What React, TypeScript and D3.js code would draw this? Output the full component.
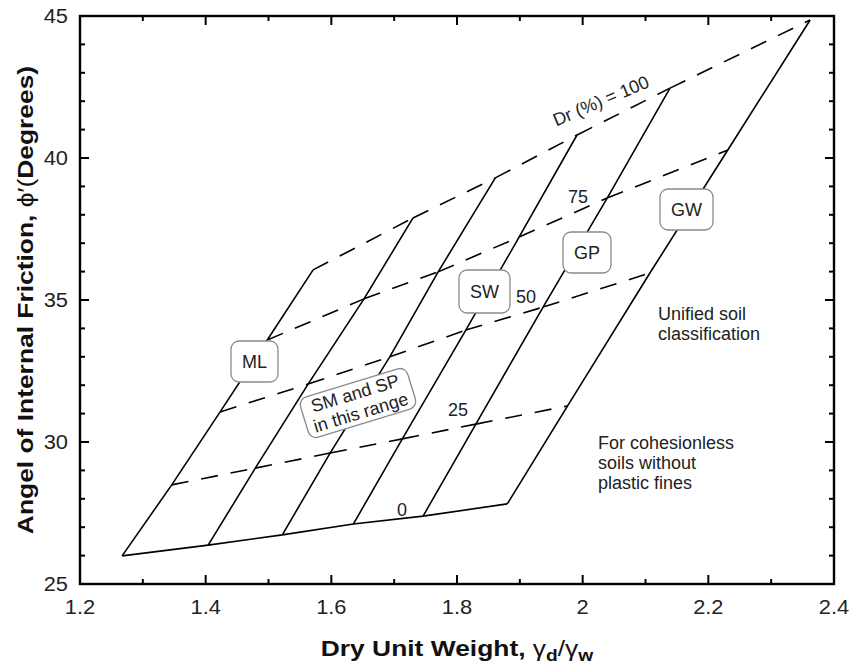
import React from "react";
import * as d3 from "d3";

// Dry unit weight (gamma_d / gamma_w) and friction angle at each relative density, one value per soil line
const gammaDr0 = [1.267, 1.404, 1.522, 1.635, 1.746, 1.88];
const phiDr0 = [25.99, 26.37, 26.73, 27.11, 27.39, 27.82];
const gammaDr25 = [1.346, 1.479, 1.598, 1.713, 1.83, 1.976];
const phiDr25 = [28.49, 29.08, 29.61, 30.11, 30.63, 31.27];
const gammaDr50 = [1.423, 1.563, 1.693, 1.814, 1.937, 2.107];
const phiDr50 = [31.06, 32.04, 33.0, 33.94, 34.75, 35.95];
const gammaDr75 = [1.498, 1.652, 1.77, 1.899, 2.039, 2.231];
const phiDr75 = [33.59, 35.04, 35.99, 37.22, 38.59, 40.28];
const gammaDr100 = [1.571, 1.73, 1.861, 1.991, 2.139, 2.362];
const phiDr100 = [36.06, 37.89, 39.3, 40.81, 42.46, 44.86];

const drLevels = [0, 25, 50, 75, 100];

const xMajorTicks = [1.2, 1.4, 1.6, 1.8, 2.0, 2.2, 2.4];
const xTickLabels = ["1.2", "1.4", "1.6", "1.8", "2", "2.2", "2.4"];
const xMinorTicks = [1.3, 1.5, 1.7, 1.9, 2.1, 2.3];
const yMajorTicks = [25, 30, 35, 40, 45];
const yTickLabels = ["25", "30", "35", "40", "45"];
const yMinorTicks = [26, 27, 28, 29, 31, 32, 33, 34, 36, 37, 38, 39, 41, 42, 43, 44];

const FONT = "'Liberation Sans', Arial, Helvetica, sans-serif";

export default function App() {
  const W = 855;
  const H = 667;
  const x = d3.scaleLinear().domain([1.2, 2.4]).range([80, 834]);
  const y = d3.scaleLinear().domain([25, 45]).range([584, 16]);

  const gammaRows = [gammaDr0, gammaDr25, gammaDr50, gammaDr75, gammaDr100];
  const phiRows = [phiDr0, phiDr25, phiDr50, phiDr75, phiDr100];

  const line = d3
    .line<[number, number]>()
    .x((d) => x(d[0]))
    .y((d) => y(d[1]));

  // solid soil lines: same index across Dr rows
  const solidLines = gammaDr0.map((_, i) =>
    gammaRows.map((g, r) => [g[i], phiRows[r][i]] as [number, number])
  );

  // dashed Dr lines, drawn segment by segment (Dr = 0 is solid)
  const dashedSegs: [number, number][][] = [];
  drLevels.forEach((lvl, r) => {
    if (lvl === 0) return;
    for (let i = 0; i < gammaRows[r].length - 1; i++) {
      dashedSegs.push([
        [gammaRows[r][i], phiRows[r][i]],
        [gammaRows[r][i + 1], phiRows[r][i + 1]],
      ]);
    }
  });
  const bottomLine = gammaDr0.map((g, i) => [g, phiDr0[i]] as [number, number]);

  const boxes = [
    { label: "ML", cx: 254.5, cy: 361.5, w: 47, h: 41 },
    { label: "SW", cx: 484.5, cy: 291.5, w: 51, h: 43 },
    { label: "GP", cx: 587, cy: 252.5, w: 48, h: 41 },
    { label: "GW", cx: 686.5, cy: 209.5, w: 53, h: 41 },
  ];

  const x0 = x(1.2), x1 = x(2.4), y0 = y(25), y1 = y(45);

  return (
    <svg
      width={W}
      height={H}
      style={{ position: "absolute", left: 0, top: 0, display: "block", background: "#fff" }}
      fontFamily={FONT}
    >
      <rect x={0} y={0} width={W} height={H} fill="#fff" />

      {/* solid soil lines */}
      {solidLines.map((pts, i) => (
        <path key={"s" + i} d={line(pts) || ""} fill="none" stroke="#000" strokeWidth={1.6} strokeLinejoin="round" />
      ))}
      <path d={line(bottomLine) || ""} fill="none" stroke="#000" strokeWidth={1.6} />

      {/* dashed relative density lines */}
      {dashedSegs.map((seg, i) => (
        <path
          key={"d" + i}
          d={line(seg) || ""}
          fill="none"
          stroke="#000"
          strokeWidth={1.6}
          strokeDasharray="17 13"
        />
      ))}

      {/* soil group boxes */}
      {boxes.map((b) => (
        <g key={b.label}>
          <rect
            x={b.cx - b.w / 2}
            y={b.cy - b.h / 2}
            width={b.w}
            height={b.h}
            rx={8}
            fill="#fff"
            stroke="#8a8a8a"
            strokeWidth={1.3}
          />
          <text x={b.cx} y={b.cy} textAnchor="middle" dominantBaseline="central" fontSize={18} fill="#222">
            {b.label}
          </text>
        </g>
      ))}

      <g transform="translate(358,403) rotate(-17)">
        <rect x={-56} y={-21} width={112} height={42} rx={8} fill="#fff" stroke="#8a8a8a" strokeWidth={1.3} />
        <text x={0} y={-10} textAnchor="middle" dominantBaseline="central" fontSize={18} fill="#222">
          SM and SP
        </text>
        <text x={0} y={10} textAnchor="middle" dominantBaseline="central" fontSize={18} fill="#222">
          in this range
        </text>
      </g>

      {/* Dr labels */}
      <text transform="translate(601,101) rotate(-23)" textAnchor="middle" dominantBaseline="central" fontSize={18} fill="#222">
        Dr (%) = 100
      </text>
      <text x={578} y={197} textAnchor="middle" dominantBaseline="central" fontSize={18} fill="#222">75</text>
      <text x={526} y={297} textAnchor="middle" dominantBaseline="central" fontSize={18} fill="#222">50</text>
      <text x={458} y={410} textAnchor="middle" dominantBaseline="central" fontSize={18} fill="#222">25</text>
      <text x={402} y={510} textAnchor="middle" dominantBaseline="central" fontSize={18} fill="#222">0</text>

      {/* notes */}
      <text x={658} y={320} fontSize={18} fill="#222">Unified soil</text>
      <text x={658} y={340} fontSize={18} fill="#222">classification</text>
      <text x={598} y={449} fontSize={18} fill="#222">For cohesionless</text>
      <text x={598} y={469} fontSize={18} fill="#222">soils without</text>
      <text x={598} y={489} fontSize={18} fill="#222">plastic fines</text>

      {/* ticks */}
      {xMajorTicks.map((t) => (
        <g key={"xm" + t}>
          <line x1={x(t)} x2={x(t)} y1={y0} y2={y0 - 9} stroke="#000" strokeWidth={2} />
          <line x1={x(t)} x2={x(t)} y1={y1} y2={y1 + 9} stroke="#000" strokeWidth={2} />
        </g>
      ))}
      {xMinorTicks.map((t) => (
        <g key={"xn" + t}>
          <line x1={x(t)} x2={x(t)} y1={y0} y2={y0 - 5} stroke="#000" strokeWidth={2} />
          <line x1={x(t)} x2={x(t)} y1={y1} y2={y1 + 5} stroke="#000" strokeWidth={2} />
        </g>
      ))}
      {yMajorTicks.map((t) => (
        <g key={"ym" + t}>
          <line x1={x0} x2={x0 + 9} y1={y(t)} y2={y(t)} stroke="#000" strokeWidth={2} />
          <line x1={x1} x2={x1 - 9} y1={y(t)} y2={y(t)} stroke="#000" strokeWidth={2} />
        </g>
      ))}
      {yMinorTicks.map((t) => (
        <g key={"yn" + t}>
          <line x1={x0} x2={x0 + 5} y1={y(t)} y2={y(t)} stroke="#000" strokeWidth={2} />
          <line x1={x1} x2={x1 - 5} y1={y(t)} y2={y(t)} stroke="#000" strokeWidth={2} />
        </g>
      ))}

      {/* frame */}
      <rect x={x0} y={y1} width={x1 - x0} height={y0 - y1} fill="none" stroke="#000" strokeWidth={2.4} />

      {/* tick labels */}
      {xMajorTicks.map((t, i) => (
        <text
          key={"xl" + t}
          transform={`translate(${x(t)},614) scale(1.12,1)`}
          textAnchor="middle"
          fontSize={19.5}
          fill="#222"
        >
          {xTickLabels[i]}
        </text>
      ))}
      {yMajorTicks.map((t, i) => (
        <text
          key={"yl" + t}
          transform={`translate(68,${y(t)}) scale(1.12,1)`}
          textAnchor="end"
          dominantBaseline="central"
          fontSize={19.5}
          fill="#222"
        >
          {yTickLabels[i]}
        </text>
      ))}

      {/* axis titles */}
      <text transform="translate(457,656) scale(1.2,1)" textAnchor="middle" fontSize={22} fill="#111">
        <tspan fontWeight="bold">Dry Unit Weight, </tspan>
        <tspan>γ</tspan>
        <tspan fontWeight="bold" fontSize={16} dy={5}>d</tspan>
        <tspan dy={-5}>/γ</tspan>
        <tspan fontWeight="bold" fontSize={16} dy={5}>w</tspan>
      </text>
      <text transform="translate(33,300) rotate(-90) scale(1.2,1)" textAnchor="middle" fontSize={22} fill="#111">
        <tspan fontWeight="bold">Angel of Internal Friction, </tspan>
        <tspan>ϕ′(</tspan>
        <tspan fontWeight="bold">Degrees)</tspan>
      </text>
    </svg>
  );
}
